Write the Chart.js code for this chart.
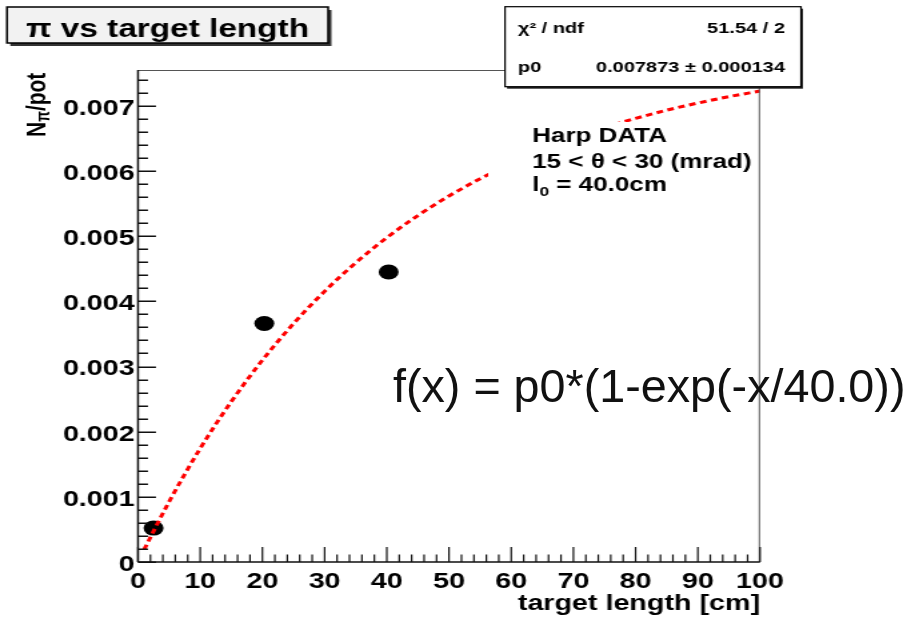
<!DOCTYPE html>
<html>
<head>
<meta charset="utf-8">
<title>π vs target length</title>
<script src="https://cdn.jsdelivr.net/npm/chart.js@4.4.1/dist/chart.umd.min.js"></script>
<style>
  html, body { margin: 0; padding: 0; background: #fff; }
  body { width: 923px; height: 622px; position: relative; overflow: hidden; }
  /* the original ROOT canvas was stretched sideways, so draw narrow and stretch */
  #stretch { position: absolute; left: 0; top: 0; width: 692px; height: 622px; transform: scaleX(1.33382); transform-origin: 0 0; }
  #fitLabel { position: absolute; left: 393px; top: 363px; font: 46.7px "Liberation Sans", Arial, sans-serif; line-height: 47px; color: #111; white-space: nowrap; }
</style>
</head>
<body>
<div id="stretch"><canvas id="chart"></canvas></div>
<div id="fitLabel">f(x) = p0*(1-exp(-x/40.0))</div>
<script>
// Harp data, pion yield per proton on target
const lengthCm = [2.5, 20.3, 40.3];
const nPiPerPot = [0.00052, 0.00366, 0.00445];

const fitX = [1, 5, 10, 15, 20, 25, 30, 35, 40, 45, 50, 55, 60, 65, 70, 75, 80, 85, 90, 95, 100];
const fitY = [0.000194, 0.000925, 0.001742, 0.002462, 0.003098, 0.003659, 0.004154, 0.004591, 0.004977, 0.005317,
              0.005617, 0.005882, 0.006116, 0.006323, 0.006505, 0.006666, 0.006807, 0.006933, 0.007043, 0.007141, 0.007227];

const xTicks = [0, 10, 20, 30, 40, 50, 60, 70, 80, 90, 100];
const yTicks = [0, 0.001, 0.002, 0.003, 0.004, 0.005, 0.006, 0.007];
const yTickLabels = ['0', '0.001', '0.002', '0.003', '0.004', '0.005', '0.006', '0.007'];

const statNames = ['χ² / ndf', 'p0'];
const statValues = ['51.54 / 2', '0.007873 ± 0.000134'];
const paveLines = ['Harp DATA', '15 < θ < 30 (mrad)'];

const FONT = '"Liberation Sans", Arial, Helvetica, sans-serif';

const rootDecor = {
  id: 'rootDecor',
  afterDatasetsDraw(chart) {
    const ctx = chart.ctx;
    const { left, right, top, bottom } = chart.chartArea;
    const xs = chart.scales.x, ys = chart.scales.y;
    ctx.save();

    // white text pave, hides the fit behind it
    ctx.fillStyle = '#fff';
    ctx.fillRect(366, 122, right - 367, 84);

    // frame
    ctx.strokeStyle = '#555';
    ctx.lineWidth = 1;
    ctx.beginPath();
    ctx.moveTo(left, top + 0.5); ctx.lineTo(right, top + 0.5);
    ctx.moveTo(right - 0.5, top); ctx.lineTo(right - 0.5, bottom);
    ctx.stroke();

    // axes
    ctx.strokeStyle = '#111';
    ctx.lineWidth = 1.5;
    ctx.beginPath();
    ctx.moveTo(left, top); ctx.lineTo(left, bottom);
    ctx.moveTo(left, bottom); ctx.lineTo(right, bottom);
    ctx.stroke();

    // tick marks, inside the frame
    ctx.lineWidth = 1.2;
    ctx.beginPath();
    for (let v = 0; v <= 100; v += 2) {
      const px = xs.getPixelForValue(v);
      const len = v % 10 === 0 ? 15 : 7.5;
      ctx.moveTo(px, bottom); ctx.lineTo(px, bottom - len);
    }
    ctx.stroke();
    ctx.lineWidth = 1.5;
    ctx.beginPath();
    for (let i = 0; i * 0.0002 <= ys.max; i++) {
      const py = Math.round(ys.getPixelForValue(i * 0.0002)) + 0.25;
      const len = i % 5 === 0 ? 13.5 : 7.5;
      ctx.moveTo(left, py); ctx.lineTo(left + len, py);
    }
    ctx.stroke();

    // y title with subscript
    ctx.fillStyle = '#000';
    ctx.save();
    ctx.translate(33.5, 137);
    ctx.rotate(-Math.PI / 2);
    ctx.textBaseline = 'alphabetic';
    ctx.textAlign = 'left';
    ctx.font = 'bold 21px ' + FONT;
    ctx.fillText('N', 0, 0);
    let w = ctx.measureText('N').width;
    ctx.font = 'bold 14px ' + FONT;
    ctx.fillText('π', w, 3);
    w += ctx.measureText('π').width;
    ctx.font = 'bold 21px ' + FONT;
    ctx.fillText('/pot', w, 0);
    ctx.restore();

    // pave text
    ctx.font = 'bold 19.5px ' + FONT;
    ctx.textAlign = 'left';
    ctx.fillText(paveLines[0], 399, 142);
    ctx.fillText(paveLines[1], 399, 168);
    ctx.fillText('l', 399, 191);
    let lw = ctx.measureText('l').width;
    ctx.font = 'bold 13px ' + FONT;
    ctx.fillText('0', 399 + lw, 196);
    lw += ctx.measureText('0').width;
    ctx.font = 'bold 19.5px ' + FONT;
    ctx.fillText(' = 40.0cm', 399 + lw, 191);

    // stats box
    const sx = 378.6, sy = 6.7, sw = 221.9, sh = 80;
    ctx.fillStyle = '#222';
    ctx.fillRect(sx + 1.5, sy + 2, sw, sh);
    ctx.fillStyle = '#fff';
    ctx.fillRect(sx, sy, sw, sh);
    ctx.strokeStyle = '#000';
    ctx.lineWidth = 1.2;
    ctx.strokeRect(sx, sy, sw, sh);
    ctx.fillStyle = '#000';
    ctx.font = 'bold 15px ' + FONT;
    const rowBase = [33, 72];
    statNames.forEach((name, i) => {
      ctx.textAlign = 'left';
      ctx.fillText(name, 388.3, rowBase[i]);
      ctx.textAlign = 'right';
      ctx.fillText(statValues[i], 588.5, rowBase[i]);
    });

    // title box
    const tx = 5.2, ty = 7, tw = 240.8, th = 36;
    ctx.fillStyle = '#333';
    ctx.fillRect(tx + 2.5, ty + 3, tw, th);
    ctx.fillStyle = '#f2f2f2';
    ctx.fillRect(tx, ty, tw, th);
    ctx.strokeStyle = '#000';
    ctx.lineWidth = 1.5;
    ctx.strokeRect(tx, ty, tw, th);
    ctx.fillStyle = '#000';
    ctx.font = 'bold 25px ' + FONT;
    ctx.textAlign = 'center';
    ctx.fillText('π vs target length', tx + tw / 2, 36.5);

    ctx.restore();
  }
};

new Chart(document.getElementById('chart'), {
  type: 'scatter',
  data: {
    datasets: [
      {
        type: 'line',
        label: 'fit',
        data: fitX.map((x, i) => ({ x: x, y: fitY[i] })),
        showLine: true,
        borderColor: '#ff0000',
        borderWidth: 3,
        borderDash: [5, 3.5],
        pointRadius: 0,
        fill: false,
        cubicInterpolationMode: 'monotone',
        order: 0
      },
      {
        label: 'Harp DATA',
        data: lengthCm.map((x, i) => ({ x: x, y: nPiPerPot[i] })),
        backgroundColor: '#000',
        borderWidth: 0,
        pointRadius: 7.5,
        order: 1
      }
    ]
  },
  options: {
    responsive: true,
    maintainAspectRatio: false,
    animation: false,
    layout: { padding: { left: 0, right: 122.2, top: 70, bottom: 0 } },
    plugins: { legend: { display: false }, tooltip: { enabled: false } },
    scales: {
      x: {
        type: 'linear',
        min: 0,
        max: 100,
        grid: { display: false, drawTicks: false },
        border: { display: false },
        afterBuildTicks: (s) => { s.ticks = xTicks.map(v => ({ value: v })); },
        afterFit: (s) => { s.height = 60; },
        ticks: {
          maxRotation: 0,
          autoSkip: false,
          padding: 7,
          color: '#000',
          font: { family: FONT, size: 21.5, weight: 'bold' }
        },
        title: {
          display: true,
          text: 'target length [cm]',
          align: 'end',
          color: '#000',
          padding: { top: 0, bottom: 5 },
          font: { family: FONT, size: 21.5, weight: 'bold' }
        }
      },
      y: {
        type: 'linear',
        min: 0,
        max: 0.00755,
        grid: { display: false, drawTicks: false },
        border: { display: false },
        afterBuildTicks: (s) => { s.ticks = yTicks.map(v => ({ value: v })); },
        afterFit: (s) => { s.width = 103.46; },
        ticks: {
          autoSkip: false,
          padding: 2.5,
          labelOffset: 3,
          color: '#000',
          font: { family: FONT, size: 21.5, weight: 'bold' },
          callback: (v) => {
            const i = yTicks.findIndex(t => Math.abs(t - v) < 1e-9);
            return i >= 0 ? yTickLabels[i] : '';
          }
        }
      }
    }
  },
  plugins: [rootDecor]
});
</script>
</body>
</html>
